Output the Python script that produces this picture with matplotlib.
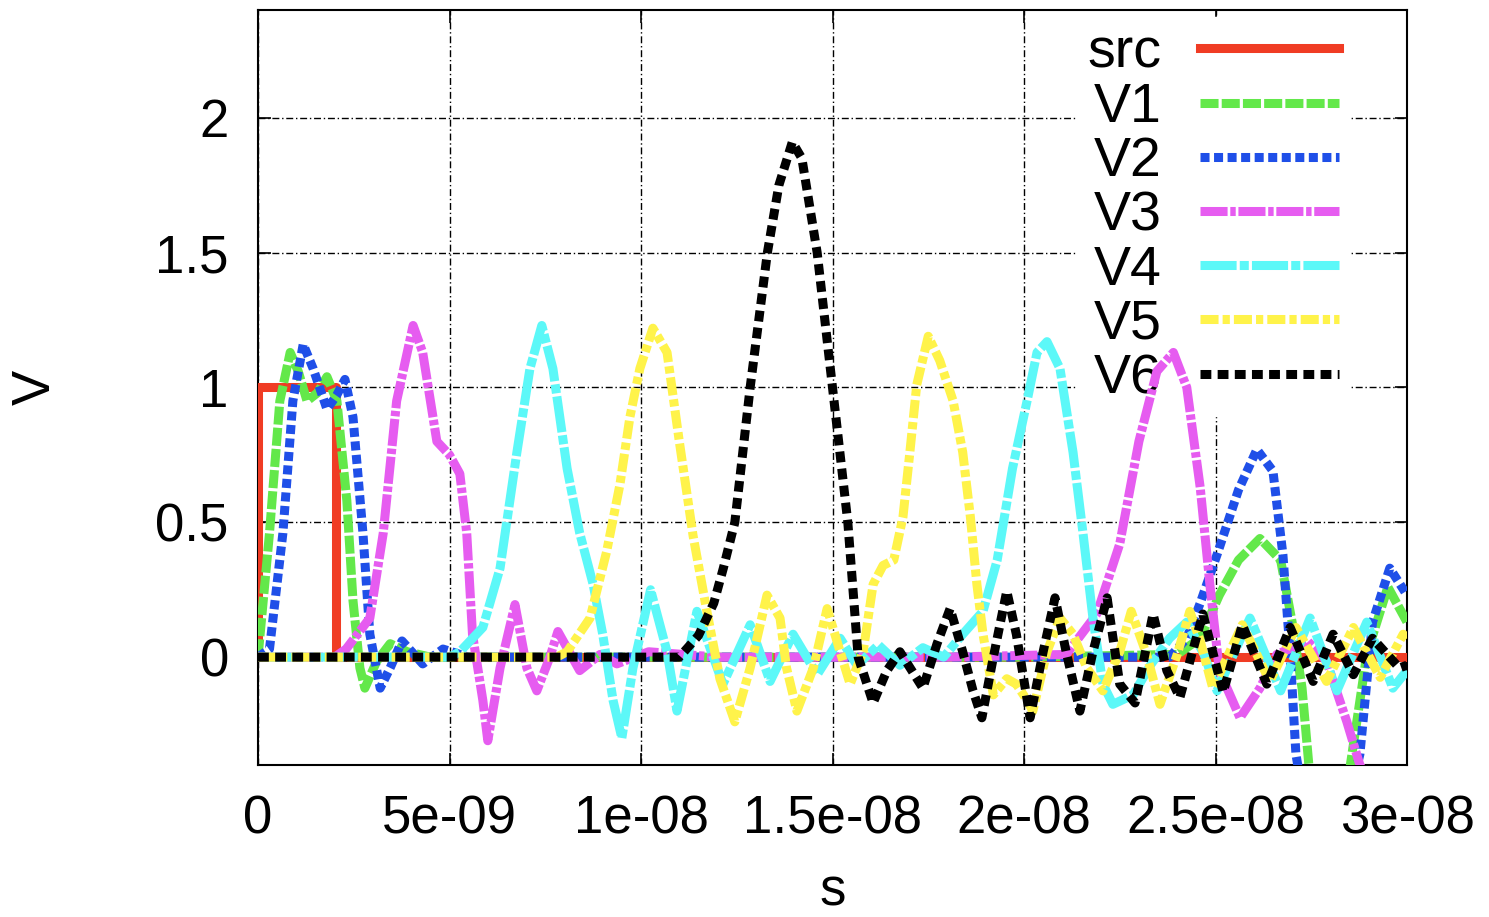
import matplotlib
matplotlib.use("Agg")
import matplotlib.pyplot as plt

plt.rcParams['font.family'] = ['Liberation Sans', 'DejaVu Sans']

# time in ns, voltage in V
src_t = [0, 0, 2.03, 2.03, 30]
src_v = [0, 1, 1, 0, 0]

v1_t = [0, 0.3, 0.57, 0.84, 1.05, 1.28, 1.55, 1.8, 2.06, 2.32, 2.48, 2.66, 2.79, 3.1, 3.45, 3.9, 4.5,
        10, 20, 24.0, 24.6, 25.1, 25.6, 26.16, 26.7, 27.0, 27.26, 27.45, 27.9, 28.5, 28.95, 29.5, 30]
v1_v = [0, 0.46, 0.95, 1.13, 1.06, 0.95, 0.98, 1.04, 0.95, 0.58, 0.21, -0.04, -0.115, -0.015, 0.05, 0.02, 0,
        0, 0, 0.01, 0.07, 0.23, 0.36, 0.44, 0.36, 0.13, -0.115, -0.42, -0.6, -0.42, 0.01, 0.26, 0.13]

v2_t = [0, 0.3, 0.65, 0.91, 1.18, 1.44, 1.8, 2.05, 2.27, 2.48, 2.74, 2.92, 3.19, 3.45, 3.76, 4.3, 4.83, 5.5,
        10, 20, 23.8, 24.25, 24.6, 25.04, 25.6, 26.08, 26.5, 26.76, 26.95, 27.1, 27.5, 28.2, 28.77, 29.1,
        29.55, 30]
v2_v = [0, 0.03, 0.46, 0.95, 1.16, 1.07, 0.92, 0.97, 1.03, 0.89, 0.46, 0.085, -0.115, -0.04, 0.06, -0.025,
        0.03, 0, 0, 0, 0.0, 0.07, 0.2, 0.38, 0.62, 0.77, 0.69, 0.38, 0.01, -0.36, -0.7, -0.7, -0.36, 0.13,
        0.33, 0.23]

v3_t = [0, 2.0, 2.3, 2.92, 3.27, 3.62, 4.05, 4.3, 4.67, 5.0, 5.27, 5.45, 5.6, 5.87, 6.0, 6.32, 6.71, 7.02,
        7.28, 7.62, 7.83, 8.4, 8.93, 9.37, 10.2, 12, 15, 18, 21.1, 21.9, 22.5, 23.0, 23.47, 23.9, 24.25,
        24.6, 24.86, 25.1, 25.64, 26.16, 26.6, 27.4, 27.9, 28.43, 28.77, 29.5, 30]
v3_v = [0, 0, 0.03, 0.145, 0.46, 0.95, 1.23, 1.13, 0.8, 0.75, 0.68, 0.46, 0.085, -0.16, -0.31, -0.04, 0.195,
        -0.04, -0.125, 0, 0.095, -0.05, 0.01, -0.025, 0.02, 0, 0, 0, 0.01, 0.16, 0.42, 0.8, 1.06, 1.13, 1.0,
        0.63, 0.26, -0.05, -0.225, -0.115, 0.01, 0.06, -0.015, -0.24, -0.4, -0.6, -0.7]

v4_t = [0, 5.0, 5.27, 5.87, 6.32, 6.76, 7.1, 7.41, 7.7, 8.07, 8.4, 8.75, 9.0, 9.27, 9.5, 9.79, 10.25, 10.68,
        10.94, 11.46, 12.14, 12.85, 13.37, 13.97, 14.6, 15.2, 15.64, 16.2, 16.76, 17.36, 17.9, 18.4, 18.93,
        19.3, 19.7, 20.08, 20.34, 20.6, 20.94, 21.28, 21.54, 21.8, 22.06, 22.32, 22.85, 23.3, 23.8, 24.25,
        24.7, 25.04, 25.9, 26.7, 27.47, 28.17, 28.95, 29.63, 30]
v4_v = [0, 0, 0.02, 0.11, 0.33, 0.76, 1.07, 1.23, 1.07, 0.7, 0.46, 0.27, 0.085, -0.16, -0.3, -0.04, 0.25,
        0.02, -0.2, 0.17, -0.1, 0.12, -0.09, 0.085, -0.065, 0.07, -0.03, 0.045, -0.03, 0.035, 0, 0.085, 0.17,
        0.36, 0.7, 0.95, 1.13, 1.17, 1.07, 0.76, 0.46, 0.145, -0.1, -0.175, -0.14, -0.03, 0.07, 0.13, 0.01,
        -0.125, 0.145, -0.125, 0.145, -0.125, 0.13, -0.115, -0.05]

v5_t = [0, 7.8, 8.07, 8.67, 9.1, 9.45, 9.71, 9.97, 10.31, 10.68, 11.0, 11.36, 11.72, 12.06, 12.45, 12.85,
        13.29, 13.63, 13.8, 14.07, 14.5, 14.86, 15.2, 15.46, 15.8, 16.06, 16.32, 16.6, 16.84, 17.02, 17.2,
        17.5, 17.8, 18.15, 18.4, 18.6, 18.77, 18.93, 19.2, 19.55, 19.8, 20.08, 20.23, 20.6, 20.94, 21.28,
        21.64, 22.06, 22.5, 22.8, 23.2, 23.55, 24.0, 24.33, 24.6, 24.93, 25.7, 26.42, 27.1, 27.9, 28.6, 29.3,
        29.9, 30]
v5_v = [0, 0, 0.02, 0.145, 0.39, 0.64, 0.89, 1.07, 1.22, 1.13, 0.8, 0.45, 0.17, -0.08, -0.24, -0.04, 0.23,
        0.145, -0.04, -0.2, -0.04, 0.18, 0.02, -0.1, 0.02, 0.27, 0.34, 0.36, 0.52, 0.76, 1.01, 1.19, 1.1, 0.95,
        0.76, 0.52, 0.27, 0.085, -0.14, -0.08, -0.1, -0.16, -0.2, 0.02, 0.145, 0.085, -0.04, -0.125, 0.02,
        0.17, 0.01, -0.175, 0.01, 0.17, 0.06, -0.115, 0.12, -0.09, 0.11, -0.09, 0.11, -0.075, 0.085, 0.07]

v6_t = [0, 11.0, 11.5, 11.9, 12.15, 12.45, 12.85, 13.3, 13.6, 13.95, 14.2, 14.6, 15.0, 15.4, 15.67, 16.06,
        16.42, 16.76, 17.36, 17.73, 18.07, 18.4, 18.67, 18.9, 19.2, 19.55, 19.8, 20.16, 20.5, 20.81, 21.1,
        21.46, 21.8, 22.17, 22.5, 22.9, 23.37, 23.73, 24.07, 24.67, 25.2, 25.7, 26.34, 26.95, 27.55, 28.07,
        28.6, 29.1, 29.8, 30]
v6_v = [0, 0, 0.08, 0.2, 0.33, 0.5, 1.0, 1.5, 1.75, 1.91, 1.85, 1.5, 1.0, 0.5, 0.0, -0.17, -0.05, 0.02,
        -0.115, 0.05, 0.18, 0.02, -0.125, -0.225, 0, 0.245, 0.085, -0.225, 0.02, 0.22, 0.02, -0.2, 0.02, 0.22,
        -0.1, -0.17, 0.16, -0.05, -0.15, 0.16, -0.13, 0.12, -0.1, 0.11, -0.09, 0.085, -0.065, 0.07, -0.04,
        -0.03]

labels = ['src', 'V1', 'V2', 'V3', 'V4', 'V5', 'V6']
colors = ['#f03c24', '#63e84a', '#1f4fe8', '#e65cf0', '#5cf8f8', '#fff34a', '#000000']
styles = ['-', (0, (2.0, 0.35)), (0, (1.0, 0.5)), (0, (3, 0.3, 0.6, 0.3)),
          (0, (4, 0.35, 1, 0.35)), (0, (2, 0.45, 0.8, 0.45)), (0, (1.2, 0.7))]
series = [(src_t, src_v), (v1_t, v1_v), (v2_t, v2_v), (v3_t, v3_v),
          (v4_t, v4_v), (v5_t, v5_v), (v6_t, v6_v)]

fig = plt.figure(figsize=(14.89, 9.17), dpi=100)
ax = fig.add_axes([258 / 1489, 1 - 765 / 917, (1407 - 258) / 1489, (765 - 10) / 917])

for (t, v), lab, c, ls in zip(series, labels, colors, styles):
    ax.plot([x * 1e-9 for x in t], v, color=c, linestyle=ls, lw=6.5, label=lab,
            solid_joinstyle='round', zorder=3)

ax.set_xlim(0, 3e-8)
ax.set_ylim(-0.4, 2.4)
ax.set_xticks([0, 5e-9, 1e-8, 1.5e-8, 2e-8, 2.5e-8, 3e-8])
ax.set_xticklabels(['0', '5e-09', '1e-08', '1.5e-08', '2e-08', '2.5e-08', '3e-08'])
ax.set_yticks([0, 0.5, 1, 1.5, 2])
ax.set_yticklabels(['0', '0.5', '1', '1.5', '2'])
ax.tick_params(direction='in', length=9, width=1.2, labelsize=38, top=True, right=True)
ax.tick_params(axis='x', pad=21)
ax.tick_params(axis='y', pad=21)
ax.set_axisbelow(True)
ax.grid(True, color='black', linestyle=(0, (5, 2, 1, 2)), lw=1.0)
for sp in ax.spines.values():
    sp.set_linewidth(1.5)

ax.set_xlabel('s', fontsize=38, labelpad=16)
ax.set_ylabel('V', fontsize=38, labelpad=68)

leg = ax.legend(loc='upper right', bbox_to_anchor=(0.975, 1.028), fontsize=40, markerfirst=False,
                handlelength=2.5, labelspacing=0.04, handletextpad=0.7, borderpad=0.2,
                frameon=True, fancybox=False, framealpha=1)
leg.get_frame().set_edgecolor('white')
leg.get_frame().set_facecolor('white')
leg.set_zorder(2)

fig.savefig('out.png', dpi=100)
